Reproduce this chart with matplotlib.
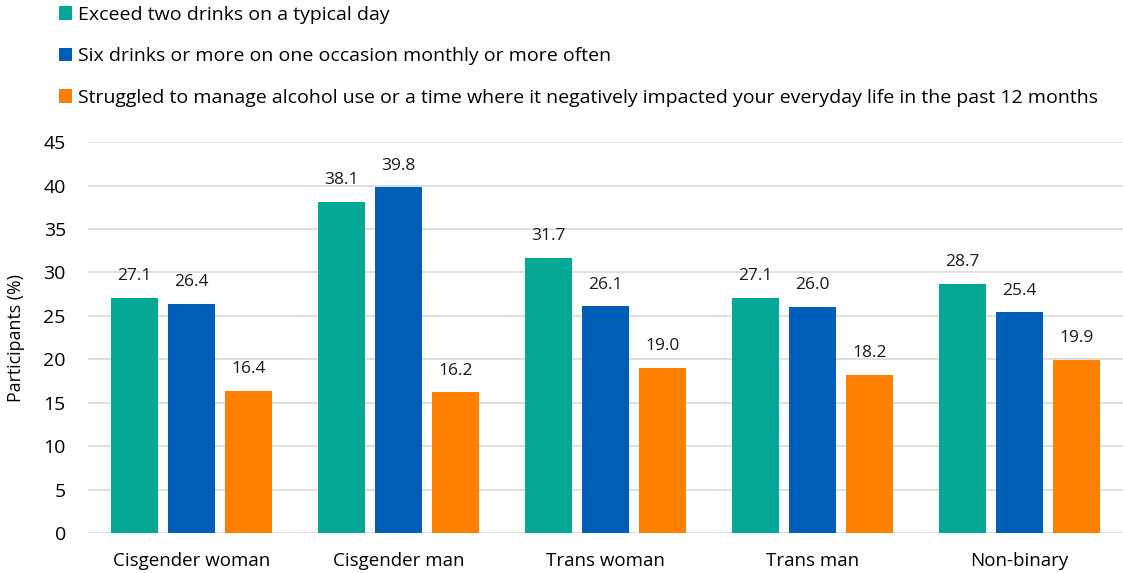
import numpy as np
import matplotlib
matplotlib.use("Agg")
import matplotlib.pyplot as plt
from matplotlib.patches import Patch

# datos
grupos = ["Cisgender woman", "Cisgender man", "Trans woman", "Trans man", "Non-binary"]
series = [
    "Exceed two drinks on a typical day",
    "Six drinks or more on one occasion monthly or more often",
    "Struggled to manage alcohol use or a time where it negatively impacted your everyday life in the past 12 months",
]
exceed_two = [27.1, 38.1, 31.7, 27.1, 28.7]
six_or_more = [26.4, 39.8, 26.1, 26.0, 25.4]
struggled = [16.4, 16.2, 19.0, 18.2, 19.9]
colores = ["#04A996", "#005EB8", "#FF7F00"]

plt.rcParams["font.family"] = ["Open Sans", "DejaVu Sans"]

fig = plt.figure(figsize=(11.23, 5.73), dpi=100)
ax = fig.add_axes([0.0784, 0.0698, 0.9216, 0.6822])

x = np.arange(len(grupos))
ancho = 0.227
paso = 0.276
for i, (vals, col) in enumerate(zip([exceed_two, six_or_more, struggled], colores)):
    pos = x + (i - 1) * paso
    barras = ax.bar(pos, vals, width=ancho, color=col, zorder=3)
    for b, v in zip(barras, vals):
        ax.text(b.get_x() + b.get_width() / 2, v + 2.5, f"{v:.1f}",
                ha="center", va="center", fontsize=12.5, color="#1a1a1a")

ax.set_xlim(-0.5, len(grupos) - 0.5)
ax.set_ylim(0, 45)
ax.set_yticks(np.arange(0, 46, 5))
ax.set_xticks(x)
ax.set_xticklabels(grupos, fontsize=13.5)
ax.tick_params(axis="y", labelsize=14, length=0, pad=16)
ax.tick_params(axis="x", length=0, pad=14)
ax.grid(axis="y", color="#D9D9D9", linewidth=1.2, zorder=0)
for s in ax.spines.values():
    s.set_visible(False)
ax.set_ylabel("Participants (%)", fontsize=12.8)
ax.yaxis.set_label_coords(-0.061, 0.5)

handles = [Patch(facecolor=c) for c in colores]
fig.legend(handles, series, loc="upper left", bbox_to_anchor=(0.0455, 1.003),
           frameon=False, fontsize=14, handlelength=0.7, handleheight=0.7,
           handletextpad=0.3, labelspacing=1.2, borderaxespad=0)

fig.savefig("out.png", dpi=100)
